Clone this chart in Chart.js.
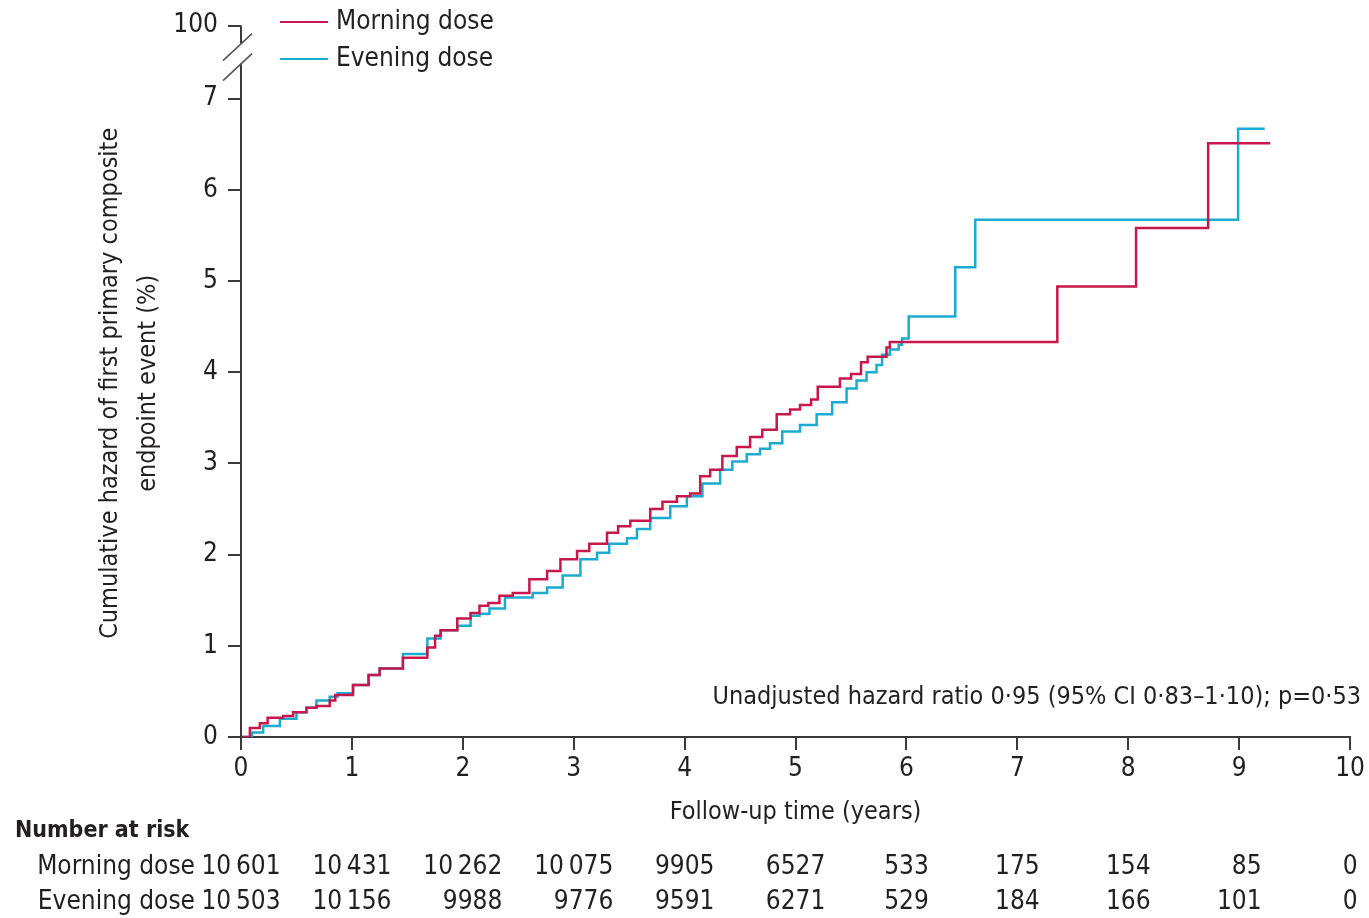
<!DOCTYPE html>
<html>
<head>
<meta charset="utf-8">
<script src="https://cdn.jsdelivr.net/npm/chart.js@4.4.1/dist/chart.umd.min.js"></script>
<style>
    body { margin: 0; background: #fff; }
    #wrap { width: 1369px; height: 918px; position: relative; }
</style>
</head>
<body>
<div id="wrap"><canvas id="kmChart"></canvas></div>
<script>
// Данные
const morningT = [0, 0.08, 0.17, 0.24, 0.38, 0.47, 0.59, 0.68, 0.80, 0.85, 1.01, 1.15, 1.25, 1.46, 1.68, 1.75, 1.80, 1.95, 2.07, 2.15,
    2.23, 2.33, 2.45, 2.60, 2.76, 2.88, 3.03, 3.14, 3.30, 3.40, 3.51, 3.69, 3.80, 3.93, 4.05, 4.14, 4.23, 4.34, 4.47, 4.59,
    4.70, 4.83, 4.95, 5.04, 5.14, 5.20, 5.40, 5.50, 5.59, 5.65, 5.82, 5.85, 7.36, 8.07, 8.72, 9.28];
const morningV = [0, 0.10, 0.15, 0.21, 0.23, 0.27, 0.32, 0.34, 0.40, 0.46, 0.57, 0.68, 0.75, 0.87, 0.98, 1.11, 1.17, 1.30, 1.36, 1.44,
    1.47, 1.55, 1.58, 1.73, 1.82, 1.95, 2.04, 2.12, 2.24, 2.31, 2.37, 2.50, 2.58, 2.64, 2.67, 2.86, 2.93, 3.08, 3.18, 3.29,
    3.37, 3.54, 3.59, 3.64, 3.70, 3.84, 3.93, 3.98, 4.11, 4.17, 4.27, 4.33, 4.94, 5.58, 6.51, 6.51];

const eveningT = [0, 0.10, 0.20, 0.35, 0.50, 0.59, 0.68, 0.80, 0.87, 1.01, 1.15, 1.25, 1.46, 1.68, 1.80, 1.95, 2.07, 2.15, 2.24, 2.38,
    2.63, 2.76, 2.90, 3.06, 3.21, 3.32, 3.48, 3.57, 3.69, 3.87, 4.02, 4.16, 4.32, 4.43, 4.56, 4.68, 4.77, 4.88, 5.04, 5.19,
    5.33, 5.46, 5.55, 5.64, 5.73, 5.78, 5.85, 5.93, 5.96, 6.02, 6.44, 6.62, 8.99, 9.23];
const eveningV = [0, 0.05, 0.12, 0.20, 0.27, 0.32, 0.40, 0.44, 0.48, 0.57, 0.68, 0.75, 0.91, 1.08, 1.17, 1.22, 1.33, 1.35, 1.41, 1.53,
    1.58, 1.64, 1.77, 1.95, 2.02, 2.12, 2.18, 2.28, 2.40, 2.53, 2.64, 2.78, 2.93, 3.02, 3.10, 3.16, 3.22, 3.35, 3.42, 3.54,
    3.67, 3.82, 3.91, 4.00, 4.08, 4.19, 4.25, 4.30, 4.37, 4.61, 5.15, 5.67, 6.67, 6.67];

const yTicks = [0, 1, 2, 3, 4, 5, 6, 7];
const breakValue = 7.8;      // место на оси, где подписано 100
const breakLabel = '100';

const riskTimes = [0, 1, 2, 3, 4, 5, 6, 7, 8, 9, 10];
const morningRisk = [10601, 10431, 10262, 10075, 9905, 6527, 533, 175, 154, 85, 0];
const eveningRisk = [10503, 10156, 9988, 9776, 9591, 6271, 529, 184, 166, 101, 0];

const seriesNames = ['Morning dose', 'Evening dose'];
const hrText = 'Unadjusted hazard ratio 0·95 (95% CI 0·83–1·10); p=0·53';

const RED = '#c8174b';
const CYAN = '#1aabd0';
const INK = '#231f20';
const AXIS = '#3a3a3a';
const FONT = "'DejaVu Sans Condensed', 'Liberation Sans Narrow', 'DejaVu Sans', sans-serif";

Chart.defaults.font.family = FONT;
Chart.defaults.font.size = 26;
Chart.defaults.color = INK;

function toPoints(ts, vs) {
    return ts.map((t, i) => ({x: t, y: vs[i]}));
}

function fmt(n) {
    // 10 601 с тонким пробелом
    return n >= 10000 ? String(n).replace(/(\d+)(\d{3})$/, '$1\u2009$2') : String(n);
}

//region Плагин: разрыв оси, легенда, подписи, таблица
const decor = {
    id: 'decor',
    afterDraw(chart) {
        const {ctx, chartArea: a, scales: {x, y}} = chart;
        const top = y.getPixelForValue(breakValue);
        ctx.save();

        // ось Y с разрывом
        ctx.strokeStyle = AXIS;
        ctx.lineWidth = 2;
        ctx.beginPath();
        ctx.moveTo(a.left, top);
        ctx.lineTo(a.left, top + 18);
        ctx.moveTo(a.left, top + 38);
        ctx.lineTo(a.left, a.bottom + 1);
        ctx.stroke();

        ctx.strokeStyle = '#555';
        ctx.lineWidth = 1.6;
        ctx.beginPath();
        ctx.moveTo(a.left - 18, top + 35);
        ctx.lineTo(a.left + 11, top + 8);
        ctx.moveTo(a.left - 18, top + 55);
        ctx.lineTo(a.left + 11, top + 28);
        ctx.stroke();

        // легенда
        ctx.font = '26px ' + FONT;
        ctx.textBaseline = 'middle';
        ctx.textAlign = 'left';
        chart.data.datasets.forEach((ds, i) => {
            const ly = 22 + i * 37;
            ctx.strokeStyle = ds.borderColor;
            ctx.lineWidth = 2;
            ctx.beginPath();
            ctx.moveTo(a.left + 39, ly);
            ctx.lineTo(a.left + 87, ly);
            ctx.stroke();
            ctx.fillStyle = INK;
            ctx.fillText(ds.label, a.left + 95, ly);
        });

        // отношение рисков
        ctx.font = '25px ' + FONT;
        ctx.textAlign = 'right';
        ctx.fillText(hrText, a.right + 11, 697);

        // подпись оси Y в две строки
        ctx.save();
        ctx.translate(110, (a.top + a.bottom) / 2 + 2);
        ctx.rotate(-Math.PI / 2);
        ctx.textAlign = 'center';
        ctx.fillText('Cumulative hazard of first primary composite', 0, 0);
        ctx.fillText('endpoint event (%)', 0, 38);
        ctx.restore();

        // число под риском
        ctx.textAlign = 'left';
        ctx.font = 'bold 23px ' + FONT;
        ctx.fillText('Number at risk', 15, 831);
        ctx.font = '26px ' + FONT;
        ctx.textAlign = 'right';
        ctx.fillText(seriesNames[0], 195, 867);
        ctx.fillText(seriesNames[1], 195, 902);
        riskTimes.forEach((t, i) => {
            const a1 = fmt(morningRisk[i]), b1 = fmt(eveningRisk[i]);
            const w = Math.max(ctx.measureText(a1).width, ctx.measureText(b1).width);
            const rx = x.getPixelForValue(t) + w / 2;
            ctx.fillText(a1, rx, 867);
            ctx.fillText(b1, rx, 902);
        });
        ctx.restore();
    }
};
//endregion

const ctx = document.getElementById('kmChart');
const chart = new Chart(ctx, {
    type: 'line',
    data: {
        datasets: [{
            label: seriesNames[0],
            data: toPoints(morningT, morningV),
            borderColor: RED,
            borderWidth: 2.5,
            stepped: true,
            pointRadius: 0,
            fill: false
        }, {
            label: seriesNames[1],
            data: toPoints(eveningT, eveningV),
            borderColor: CYAN,
            borderWidth: 2.5,
            stepped: true,
            pointRadius: 0,
            fill: false
        }]
    },
    options: {
        responsive: true,
        maintainAspectRatio: false,
        animation: false,
        layout: {padding: {left: 0, top: 22, right: 18, bottom: 91}},
        plugins: {
            legend: {display: false},
            tooltip: {enabled: false}
        },
        scales: {
            x: {
                type: 'linear',
                min: 0,
                max: 10,
                ticks: {stepSize: 1, padding: 4, color: INK, font: {size: 26}},
                grid: {drawOnChartArea: false, drawTicks: true, tickLength: 13, color: AXIS, lineWidth: 2},
                border: {display: true, color: AXIS, width: 2},
                title: {display: true, text: 'Follow-up time (years)', padding: 0, color: INK, font: {size: 25}},
                afterFit(scale) { scale.height = 90; }
            },
            y: {
                type: 'linear',
                min: 0,
                max: breakValue,
                afterBuildTicks(scale) {
                    scale.ticks = yTicks.concat([breakValue]).map(v => ({value: v}));
                },
                ticks: {
                    padding: 10,
                    color: INK,
                    font: {size: 26},
                    callback: v => v === breakValue ? breakLabel : v
                },
                grid: {drawOnChartArea: false, drawTicks: true, tickLength: 13, color: AXIS, lineWidth: 2},
                border: {display: false},
                afterFit(scale) { scale.width = 241; }
            }
        }
    },
    plugins: [decor]
});
</script>
</body>
</html>
